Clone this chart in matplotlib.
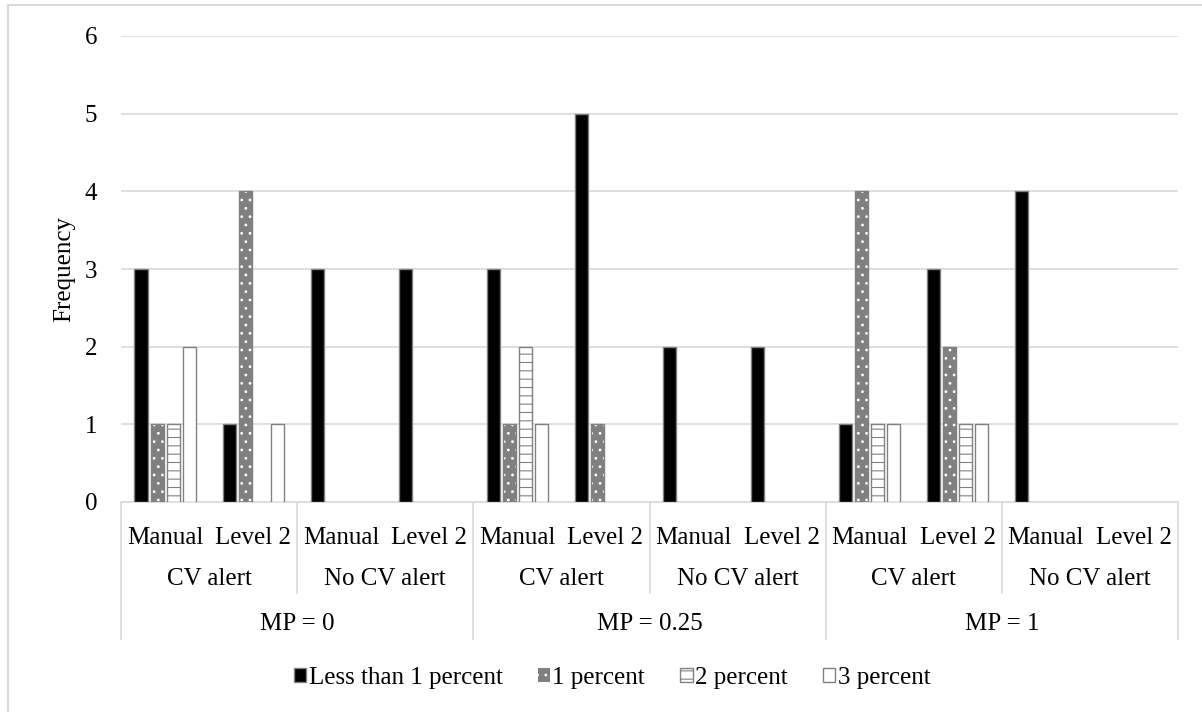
import matplotlib
matplotlib.use("Agg")
from matplotlib import pyplot as plt
from matplotlib import transforms
from matplotlib.patches import Patch, Rectangle
from matplotlib.lines import Line2D
import numpy as np

# ----------------------------------------
# Data
# ----------------------------------------
modes = ["Manual", "Level 2"] * 6
alerts = ["CV alert", "No CV alert"] * 3
mp_labels = ["MP = 0", "MP = 0.25", "MP = 1"]
series = ["Less than 1 percent", "1 percent", "2 percent", "3 percent"]

less_than_1 = [3, 1, 3, 3, 3, 5, 2, 2, 1, 3, 4, 0]
one_pct = [1, 4, 0, 0, 1, 1, 0, 0, 4, 2, 0, 0]
two_pct = [1, 0, 0, 0, 2, 0, 0, 0, 1, 1, 0, 0]
three_pct = [2, 1, 0, 0, 1, 0, 0, 0, 1, 1, 0, 0]

# ----------------------------------------
# Layout (pixels)
# ----------------------------------------
W, H = 1202, 712
DPI = 100
GRID = "#d9d9d9"
EDGE = "#808080"
FONT = "Liberation Serif"
FS = 18

plt.rcParams["font.family"] = FONT
plt.rcParams["hatch.linewidth"] = 0.8

fig = plt.figure(figsize=(W / DPI, H / DPI), dpi=DPI)
left, right, top, bottom = 121, 1178, 36, 502
ax = fig.add_axes([left / W, 1 - bottom / H, (right - left) / W, (bottom - top) / H])

x = np.arange(len(modes))
bw = 0.148
step = 0.182
offsets = (np.arange(4) - 1.5) * step


def draw(vals, k, face, hatch=None, hatch_col=None):
    vals = np.asarray(vals, dtype=float)
    keep = vals > 0
    xs = x[keep] + offsets[k]
    if hatch is not None:
        ax.bar(xs, vals[keep], bw, color=face, edgecolor=hatch_col,
               hatch=hatch, linewidth=0, zorder=3)
        ax.bar(xs, vals[keep], bw, fill=False, edgecolor=EDGE,
               linewidth=1, zorder=4)
    else:
        ax.bar(xs, vals[keep], bw, color=face, edgecolor=EDGE,
               linewidth=1, zorder=3)


draw(less_than_1, 0, "black")
draw(one_pct, 1, EDGE, "..", "white")
draw(two_pct, 2, "white", "--", EDGE)
draw(three_pct, 3, "white")

ax.set_xlim(-0.5, len(modes) - 0.5)
ax.set_ylim(0, 6)
ax.set_yticks(range(0, 7))
ax.tick_params(axis="y", length=0, pad=17, labelsize=FS)
ax.set_xticks([])
ax.yaxis.grid(True, color=GRID, linewidth=1.2, zorder=0)
ax.set_axisbelow(True)
for s in ["top", "right", "left"]:
    ax.spines[s].set_visible(False)
ax.spines["bottom"].set_color(GRID)
ax.spines["bottom"].set_linewidth(1.2)

ax.set_ylabel("Frequency", fontsize=FS)
ax.yaxis.set_label_coords(-0.0435, 0.5)

# ----------------------------------------
# Multi-level category axis
# ----------------------------------------
tr = transforms.blended_transform_factory(ax.transData, fig.transFigure)


def fy(py):
    return 1 - py / H


for i, m in enumerate(modes):
    fig.text(x[i], fy(538), m, transform=tr, ha="center", va="center", fontsize=FS)
for j, a in enumerate(alerts):
    fig.text(2 * j + 0.5, fy(579), a, transform=tr, ha="center", va="center", fontsize=FS)
for j, mp in enumerate(mp_labels):
    fig.text(4 * j + 1.5, fy(624), mp, transform=tr, ha="center", va="center", fontsize=FS)

for b in [-0.5, 3.5, 7.5, 11.5]:
    fig.add_artist(Line2D([b, b], [fy(bottom), fy(639)], transform=tr,
                          color=GRID, linewidth=1.2))
for b in [1.5, 5.5, 9.5]:
    fig.add_artist(Line2D([b, b], [fy(bottom), fy(593)], transform=tr,
                          color=GRID, linewidth=1.2))

# ----------------------------------------
# Legend
# ----------------------------------------
handles = [
    Patch(facecolor="black", edgecolor=EDGE, linewidth=1),
    Patch(facecolor=EDGE, edgecolor="white", hatch="..", linewidth=0),
    Patch(facecolor="white", edgecolor=EDGE, hatch="--", linewidth=1),
    Patch(facecolor="white", edgecolor=EDGE, linewidth=1),
]
fig.legend(handles, series, loc="center", bbox_to_anchor=(612 / W, fy(678)),
           ncol=4, frameon=False, fontsize=FS, handlelength=0.5,
           handleheight=0.5, handletextpad=0.1, columnspacing=1.4)

# outer chart border
fig.add_artist(Rectangle((8 / W, -0.1), 1.2, fy(5) + 0.1, transform=fig.transFigure,
                         fill=False, edgecolor=GRID, linewidth=1.5))

plt.savefig("out.png", dpi=DPI)
